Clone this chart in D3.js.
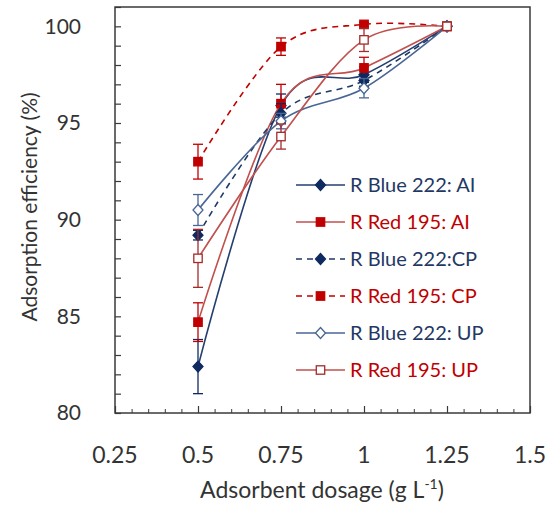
<!DOCTYPE html>
<html>
<head>
<meta charset="utf-8">
<script src="https://cdn.jsdelivr.net/npm/d3@7"></script>
<style>
  html, body { margin: 0; padding: 0; background: #fff; }
  svg { display: block; font-family: Lato, "Noto Sans", sans-serif; }
</style>
</head>
<body>
<svg id="chart" width="553" height="505"></svg>
<script>
// Adsorbent dosage (g/L)
const dosage = [0.5, 0.75, 1, 1.25];

// Adsorption efficiency (%) and error (±) per series
const blueAI = [82.4, 95.9, 97.5, 100];
const blueAIErr = [1.4, 0.6, 0.4, 0];
const redAI = [84.7, 96.0, 97.85, 100];
const redAIErr = [1.0, 1.0, 0.55, 0];
const blueCP = [89.2, 95.5, 97.2, 100];
const blueCPErr = [0.25, 0.5, 0.3, 0];
const redCP = [93.0, 98.95, 100.1, 100];
const redCPErr = [0.9, 0.45, 0.1, 0];
const blueUP = [90.5, 95.1, 96.8, 100];
const blueUPErr = [0.8, 0.4, 0.5, 0];
const redUP = [88.0, 94.3, 99.3, 100];
const redUPErr = [1.5, 0.65, 0.6, 0];

const seriesNames = ["R Blue 222: AI", "R Red 195: AI", "R Blue 222:CP", "R Red 195: CP", "R Blue 222: UP", "R Red 195: UP"];
const xTickValues = [0.25, 0.5, 0.75, 1, 1.25, 1.5];
const yTickValues = [80, 85, 90, 95, 100];

const NAVY = "#1f3864", DARKRED = "#c00000";

// Drawing style for each series (same order as the names)
const styles = [
  { line: "#243f70", dash: null, marker: "diamond", fill: "#0f2a60", stroke: "#0f2a60", text: NAVY },
  { line: "#c0504d", dash: null, marker: "square", fill: "#c00000", stroke: "#c00000", text: DARKRED },
  { line: "#1f3864", dash: "6,5", marker: "diamond", fill: "#0f2a60", stroke: "#0f2a60", text: NAVY },
  { line: "#c00000", dash: "6,5", marker: "square", fill: "#c00000", stroke: "#c00000", text: DARKRED },
  { line: "#4a6694", dash: null, marker: "diamond", fill: "#ffffff", stroke: "#4a6694", text: NAVY },
  { line: "#c0504d", dash: null, marker: "square", fill: "#ffffff", stroke: "#a52a2a", text: DARKRED }
];
const values = [blueAI, redAI, blueCP, redCP, blueUP, redUP];
const errors = [blueAIErr, redAIErr, blueCPErr, redCPErr, blueUPErr, redUPErr];

const series = seriesNames.map((name, i) => ({
  name, style: styles[i],
  points: dosage.map((d, j) => ({ x: d, y: values[i][j], e: errors[i][j] }))
}));

const svg = d3.select("#chart");
const plotLeft = 115, plotRight = 530, plotTop = 7, plotBottom = 413;

const x = d3.scaleLinear().domain([0.25, 1.5]).range([plotLeft, plotRight]);
const y = d3.scaleLinear().domain([80, 101]).range([plotBottom, plotTop]);

const axisColor = "#3a3a3a";
const textColor = "#333";

// X axis: ticks pointing into the plot
const xAxis = d3.axisBottom(x).tickValues(xTickValues).tickSize(-7).tickFormat("");
const xMinor = d3.axisBottom(x).tickValues(d3.range(0.25, 1.5001, 0.05)).tickSize(-4).tickFormat("");
svg.append("g").attr("transform", `translate(0,${plotBottom})`).call(xMinor)
  .call(g => g.select(".domain").remove())
  .call(g => g.selectAll("line").attr("stroke", axisColor).attr("stroke-width", 1));
svg.append("g").attr("transform", `translate(0,${plotBottom})`).call(xAxis)
  .call(g => g.select(".domain").remove())
  .call(g => g.selectAll("line").attr("stroke", axisColor).attr("stroke-width", 1.2));

// Y axis ticks
const yMinor = d3.axisLeft(y).tickValues(d3.range(80, 101.001, 1)).tickSize(-6).tickFormat("");
svg.append("g").attr("transform", `translate(${plotLeft},0)`).call(yMinor)
  .call(g => g.select(".domain").remove())
  .call(g => g.selectAll("line").attr("stroke", axisColor).attr("stroke-width", 1.2));

// Tick labels
svg.append("g").selectAll("text").data(xTickValues).join("text")
  .attr("x", d => x(d)).attr("y", 463)
  .attr("text-anchor", "middle").attr("font-size", 23).attr("fill", textColor)
  .text(d => d3.format("~g")(d));
svg.append("g").selectAll("text").data(yTickValues).join("text")
  .attr("x", 81).attr("y", d => y(d)).attr("dy", "0.35em")
  .attr("text-anchor", "end").attr("font-size", 21).attr("fill", textColor)
  .text(d => d);

// Plot frame
svg.append("rect").attr("x", plotLeft).attr("y", plotTop)
  .attr("width", plotRight - plotLeft).attr("height", plotBottom - plotTop)
  .attr("fill", "none").attr("stroke", axisColor).attr("stroke-width", 1.5);

// Axis titles
const xt = svg.append("text").attr("x", 322).attr("y", 498)
  .attr("text-anchor", "middle").attr("font-size", 23).attr("fill", textColor);
xt.append("tspan").text("Adsorbent dosage (g L");
xt.append("tspan").attr("font-size", 14).attr("dy", -9).text("-1");
xt.append("tspan").attr("dy", 9).text(")");

svg.append("text").attr("transform", "translate(37,207) rotate(-90)")
  .attr("text-anchor", "middle").attr("font-size", 21).attr("fill", textColor)
  .text("Adsorption efficiency (%)");

// Markers
function drawMarker(g, st, cx, cy) {
  if (st.marker === "diamond") {
    g.append("path")
      .attr("d", `M${cx},${cy - 5.5}L${cx + 5},${cy}L${cx},${cy + 5.5}L${cx - 5},${cy}Z`)
      .attr("fill", st.fill).attr("stroke", st.stroke).attr("stroke-width", 1.3);
  } else {
    g.append("rect").attr("x", cx - 4.2).attr("y", cy - 4.2).attr("width", 8.4).attr("height", 8.4)
      .attr("fill", st.fill).attr("stroke", st.stroke).attr("stroke-width", 1.3);
  }
}

const line = d3.line().x(d => x(d.x)).y(d => y(d.y)).curve(d3.curveCardinal.tension(0));

series.forEach(s => {
  const g = svg.append("g");
  g.append("path").datum(s.points).attr("d", line)
    .attr("fill", "none").attr("stroke", s.style.line).attr("stroke-width", 1.6)
    .attr("stroke-dasharray", s.style.dash);
  // error bars
  s.points.filter(p => p.e > 0).forEach(p => {
    const cx = x(p.x);
    const eb = g.append("g").attr("stroke", s.style.stroke === "#ffffff" ? s.style.line : s.style.stroke)
      .attr("stroke-width", 1.3);
    eb.append("line").attr("x1", cx).attr("x2", cx).attr("y1", y(p.y - p.e)).attr("y2", y(p.y + p.e));
    eb.append("line").attr("x1", cx - 5).attr("x2", cx + 5).attr("y1", y(p.y - p.e)).attr("y2", y(p.y - p.e));
    eb.append("line").attr("x1", cx - 5).attr("x2", cx + 5).attr("y1", y(p.y + p.e)).attr("y2", y(p.y + p.e));
  });
  s.points.forEach(p => drawMarker(g, s.style, x(p.x), y(p.y)));
});

// Legend
const legend = svg.append("g");
series.forEach((s, i) => {
  const ly = 185 + i * 37;
  const g = legend.append("g");
  g.append("line").attr("x1", 296).attr("x2", 345).attr("y1", ly).attr("y2", ly)
    .attr("stroke", s.style.line).attr("stroke-width", 1.6)
    .attr("stroke-dasharray", s.style.dash);
  drawMarker(g, s.style, 320.5, ly);
  g.append("text").attr("x", 350).attr("y", ly).attr("dy", "0.35em")
    .attr("font-size", 20).attr("fill", s.style.text).text(s.name);
});
</script>
</body>
</html>
